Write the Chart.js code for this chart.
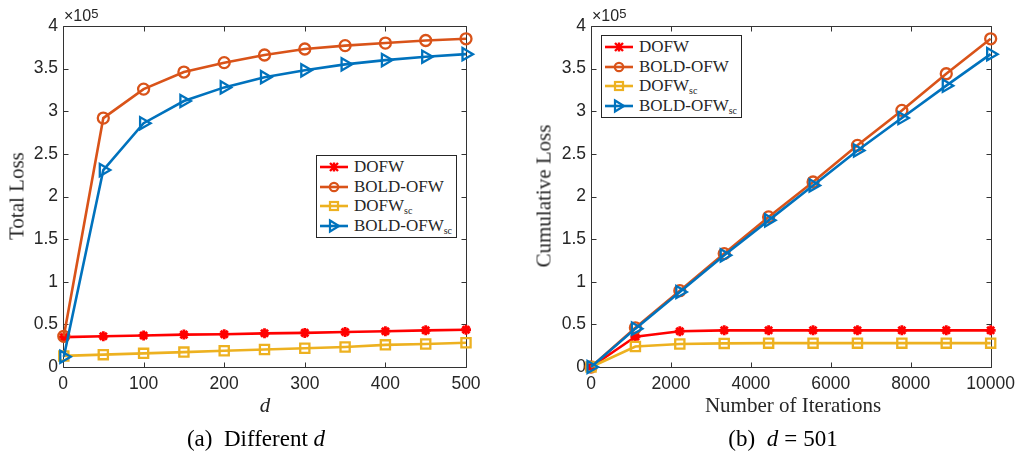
<!DOCTYPE html>
<html>
<head>
<meta charset="utf-8">
<script src="https://cdn.jsdelivr.net/npm/chart.js@4.4.1/dist/chart.umd.min.js"></script>
<style>
  html, body { margin: 0; padding: 0; background: #ffffff; }
  #wrap { position: relative; width: 1022px; height: 452px; background: #ffffff; overflow: hidden; }
  .pane { position: absolute; top: 0; width: 511px; height: 452px; }
  .txt { position: absolute; white-space: nowrap; color: #262626; }
  .center { transform: translate(-50%, -50%); }
  .serif { font-family: "Liberation Serif", "Times New Roman", serif; }
  .sans { font-family: "Liberation Sans", Arial, sans-serif; }
  .ylab { transform: translate(-50%, -50%) rotate(-90deg); }
  .legend { position: absolute; width: 141px; height: 83px; border: 1px solid #262626; background: #ffffff; box-sizing: border-box; }
  .lrow { position: absolute; left: 2px; height: 20px; display: flex; align-items: center; font-family: "Liberation Serif", "Times New Roman", serif; font-size: 17px; color: #262626; }
  .lrow svg { margin-right: 5px; }
  .sub { font-size: 10px; position: relative; top: 4px; }
  .cap { color: #000; font-family: "Liberation Serif", "Times New Roman", serif; font-size: 23px; }
  .expo { font-size: 16px; line-height: 16px; }
  .expo sup { font-size: 13px; position: relative; top: -2px; vertical-align: top; }
</style>
</head>
<body>
<div id="wrap">
  <div class="pane" style="left:0"><canvas id="c1" width="511" height="452"></canvas></div>
  <div class="pane" style="left:511px"><canvas id="c2" width="511" height="452"></canvas></div>

  <div class="txt sans expo" style="left:64px;top:8px;">×10<sup>5</sup></div>
  <div class="txt sans expo" style="left:592px;top:8px;">×10<sup>5</sup></div>

  <div class="txt serif ylab" style="left:17px;top:196px;font-size:21px;">Total Loss</div>
  <div class="txt serif ylab" style="left:544px;top:196px;font-size:21px;">Cumulative Loss</div>

  <div class="txt serif center" style="left:265px;top:405px;font-size:21px;font-style:italic;">d</div>
  <div class="txt serif center" style="left:793px;top:405px;font-size:21px;">Number of Iterations</div>

  <div class="txt cap center" style="left:256px;top:439px;">(a)&nbsp; Different <i>d</i></div>
  <div class="txt cap center" style="left:783px;top:439px;">(b)&nbsp; <i>d</i><span style="margin:0 6px;">=</span>501</div>

  <div class="legend" id="leg1" style="left:316px;top:155px;"></div>
  <div class="legend" id="leg2" style="left:601px;top:35px;"></div>
</div>

<script>
// ---------------- data ----------------
const seriesNames = ["DOFW", "BOLD-OFW", "DOFW", "BOLD-OFW"];
const seriesSubs  = ["", "", "sc", "sc"];

// (a) Different d  (values ×10^5)
const dValues = [1, 50, 100, 150, 200, 250, 300, 350, 400, 450, 500];
const totalDOFW      = [0.35, 0.36, 0.37, 0.38, 0.385, 0.395, 0.40, 0.41, 0.42, 0.43, 0.437];
const totalBOLD      = [0.36, 2.92, 3.26, 3.46, 3.57, 3.66, 3.73, 3.77, 3.80, 3.83, 3.85];
const totalDOFWsc    = [0.13, 0.145, 0.16, 0.175, 0.19, 0.205, 0.22, 0.235, 0.26, 0.27, 0.285];
const totalBOLDsc    = [0.12, 2.31, 2.86, 3.12, 3.28, 3.40, 3.48, 3.55, 3.60, 3.64, 3.67];

// (b) d = 501  (values ×10^5)
const iterValues = [0, 1111, 2222, 3333, 4444, 5556, 6667, 7778, 8889, 10000];
const cumDOFW      = [0, 0.355, 0.42, 0.43, 0.43, 0.43, 0.43, 0.43, 0.43, 0.43];
const cumBOLD      = [0, 0.46, 0.895, 1.33, 1.76, 2.17, 2.60, 3.01, 3.44, 3.85];
const cumDOFWsc    = [0, 0.24, 0.27, 0.277, 0.28, 0.28, 0.28, 0.28, 0.28, 0.28];
const cumBOLDsc    = [0, 0.45, 0.88, 1.31, 1.72, 2.13, 2.54, 2.92, 3.30, 3.67];

const yTicksMax = 4, yTickStep = 0.5;

// ---------------- styles ----------------
const colors = ["#FF0000", "#D95319", "#EDB120", "#0072BD"];
const styles = [
  { pointStyle: "star", radius: 5, rotation: 0 },
  { pointStyle: "circle", radius: 5.5, rotation: 0 },
  { pointStyle: "rect", radius: 6.5, rotation: 0 },
  { pointStyle: "triangle", radius: 7, rotation: 90 }
];

const boxTicks = {
  id: "boxTicks",
  beforeDatasetsDraw(chart) {
    const { ctx, chartArea: a, scales } = chart;
    const x = scales.x, y = scales.y;
    ctx.save();
    ctx.strokeStyle = "#333333";
    ctx.lineWidth = 1;
    ctx.beginPath();
    const L = Math.round(a.left) + 0.5, R = Math.round(a.right) + 0.5;
    const T = Math.round(a.top) + 0.5, B = Math.round(a.bottom) + 0.5;
    ctx.rect(L, T, R - L, B - T);
    x.ticks.forEach(t => {
      const px = Math.round(x.getPixelForValue(t.value)) + 0.5;
      ctx.moveTo(px, B); ctx.lineTo(px, B - 5);
      ctx.moveTo(px, T); ctx.lineTo(px, T + 5);
    });
    y.ticks.forEach(t => {
      const py = Math.round(y.getPixelForValue(t.value)) + 0.5;
      ctx.moveTo(L, py); ctx.lineTo(L + 5, py);
      ctx.moveTo(R, py); ctx.lineTo(R - 5, py);
    });
    ctx.stroke();
    ctx.restore();
  }
};

function buildDatasets(xs, arrays) {
  return arrays.map((arr, i) => ({
    label: seriesNames[i] + seriesSubs[i],
    data: arr.map((v, k) => ({ x: xs[k], y: v })),
    order: arrays.length - 1 - i,
    borderColor: colors[i],
    backgroundColor: "rgba(0,0,0,0)",
    pointBorderColor: colors[i],
    pointBackgroundColor: "rgba(0,0,0,0)",
    borderWidth: 2.6,
    pointBorderWidth: i === 0 ? 2.8 : 2.3,
    pointStyle: styles[i].pointStyle,
    pointRadius: styles[i].radius,
    pointRotation: styles[i].rotation,
    pointHoverRadius: styles[i].radius,
    tension: 0,
    clip: false
  }));
}

function makeChart(id, xs, arrays, xMax, xStep, yWidth, padRight) {
  const tickFont = { family: "'Liberation Sans', Arial, sans-serif", size: 17.5 };
  return new Chart(document.getElementById(id), {
    type: "line",
    data: { datasets: buildDatasets(xs, arrays) },
    options: {
      responsive: false,
      animation: false,
      devicePixelRatio: 1,
      layout: { padding: { left: 0, top: 26, right: padRight, bottom: 0 } },
      plugins: { legend: { display: false }, tooltip: { enabled: false } },
      scales: {
        x: {
          type: "linear",
          min: 0, max: xMax,
          grid: { display: false, drawTicks: false },
          border: { display: false },
          ticks: {
            stepSize: xStep, color: "#262626", font: tickFont, padding: 7,
            maxRotation: 0, autoSkip: false,
            callback: v => String(v)
          },
          afterFit: s => { s.height = 85; }
        },
        y: {
          min: 0, max: yTicksMax,
          grid: { display: false, drawTicks: false },
          border: { display: false },
          ticks: {
            stepSize: yTickStep, color: "#262626", font: tickFont, padding: 5,
            callback: v => String(v)
          },
          afterFit: s => { s.width = yWidth; }
        }
      }
    },
    plugins: [boxTicks]
  });
}

makeChart("c1", dValues, [totalDOFW, totalBOLD, totalDOFWsc, totalBOLDsc], 500, 100, 63, 45);
makeChart("c2", iterValues, [cumDOFW, cumBOLD, cumDOFWsc, cumBOLDsc], 10000, 2000, 80, 28);

// ---------------- legends ----------------
function markerSVG(i) {
  const c = colors[i];
  let m = "";
  if (i === 0) {
    m = `<path d="M11 5 L19 13 M19 5 L11 13 M15 4.5 L15 13.5" stroke="${c}" stroke-width="2.4" fill="none"/>`;
  } else if (i === 1) {
    m = `<circle cx="15" cy="9" r="4.2" stroke="${c}" stroke-width="2.2" fill="none"/>`;
  } else if (i === 2) {
    m = `<rect x="11" y="5" width="8" height="8" stroke="${c}" stroke-width="2.2" fill="none"/>`;
  } else {
    m = `<polygon points="11,3.5 20,9 11,14.5" stroke="${c}" stroke-width="2.2" fill="none"/>`;
  }
  return `<svg width="30" height="18" viewBox="0 0 30 18"><line x1="1" y1="9" x2="29" y2="9" stroke="${c}" stroke-width="2.6"/>${m}</svg>`;
}
const rowTops = [1, 20.5, 40, 60];
["leg1", "leg2"].forEach(id => {
  const el = document.getElementById(id);
  let html = "";
  for (let i = 0; i < 4; i++) {
    const sub = seriesSubs[i] ? `<span class="sub">${seriesSubs[i]}</span>` : "";
    html += `<div class="lrow" style="top:${rowTops[i]}px">${markerSVG(i)}<span>${seriesNames[i]}</span>${sub}</div>`;
  }
  el.innerHTML = html;
});
</script>
</body>
</html>
